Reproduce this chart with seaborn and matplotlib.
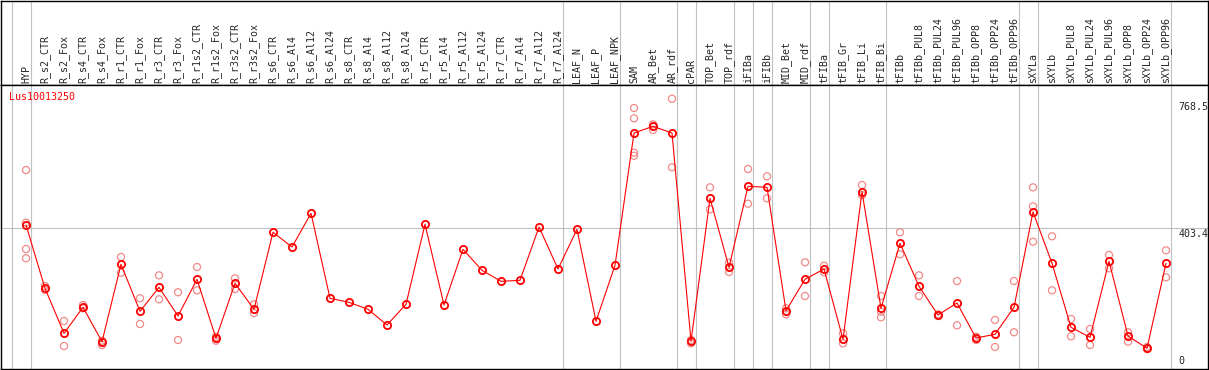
import numpy as np
import pandas as pd
import seaborn as sns
import matplotlib.pyplot as plt

# ====== Data ======
GENE = "Lus10013250"

SAMPLES = [
    "HYP", "R_s2_CTR", "R_s2_Fox", "R_s4_CTR", "R_s4_Fox", "R_r1_CTR", "R_r1_Fox",
    "R_r3_CTR", "R_r3_Fox", "R_r1s2_CTR", "R_r1s2_Fox", "R_r3s2_CTR", "R_r3s2_Fox",
    "R_s6_CTR", "R_s6_Al4", "R_s6_Al12", "R_s6_Al24", "R_s8_CTR", "R_s8_Al4",
    "R_s8_Al12", "R_s8_Al24", "R_r5_CTR", "R_r5_Al4", "R_r5_Al12", "R_r5_Al24",
    "R_r7_CTR", "R_r7_Al4", "R_r7_Al12", "R_r7_Al24", "LEAF_N", "LEAF_P", "LEAF_NPK",
    "SAM", "AR_Bet", "AR_rdf", "cPAR", "TOP_Bet", "TOP_rdf", "iFIBa", "iFIBb",
    "MID_Bet", "MID_rdf", "tFIBa", "tFIB_Gr", "tFIB_Li", "tFIB_Bi", "tFIBb",
    "tFIBb_PUL8", "tFIBb_PUL24", "tFIBb_PUL96", "tFIBb_OPP8", "tFIBb_OPP24",
    "tFIBb_OPP96", "sXYLa", "sXYLb", "sXYLb_PUL8", "sXYLb_PUL24", "sXYLb_PUL96",
    "sXYLb_OPP8", "sXYLb_OPP24", "sXYLb_OPP96",
]

MEANS = [
    413.0, 231.4, 102.4, 177.0, 78.3, 300.3, 165.5, 234.3, 152.0, 257.3, 88.0,
    245.8, 171.2, 392.1, 349.9, 446.5, 202.8, 191.3, 171.2, 126.2, 185.6, 415.0,
    183.6, 343.3, 283.1, 251.5, 254.4, 407.3, 286.8, 400.7, 136.8, 297.4, 676.8,
    696.1, 676.8, 79.4, 489.6, 291.7, 524.0, 521.1, 167.2, 257.3, 286.8, 85.2,
    508.5, 174.1, 360.5, 237.2, 154.9, 189.3, 88.9, 99.5, 177.0, 450.3, 303.1,
    119.6, 90.9, 308.9, 94.6, 59.4, 303.1,
]

REPLICATES = [
    [570.7, 419.6, 344.2, 317.5], [238.0, 226.6], [137.7, 66.0], [183.6, 174.1],
    [81.2, 68.8], [321.2, 276.2], [202.8, 129.1], [268.7, 199.9], [220.0, 83.2],
    [292.5, 225.7], [92.6, 81.2], [260.1, 229.4], [185.6, 160.6],
    [], [], [], [], [], [], [], [], [], [], [], [], [], [], [], [], [], [], [],
    [748.5, 719.0, 620.3, 611.7], [701.8, 694.9, 685.5], [775.2, 578.5],
    [83.2, 73.7], [521.1, 458.0], [304.9, 278.2], [573.6, 474.1], [552.7, 489.6],
    [174.1, 156.9], [306.0, 209.4], [296.3, 277.3], [102.4, 73.7], [527.7, 499.0],
    [209.4, 164.3, 148.3], [392.1, 329.0], [268.7, 209.4], [156.9, 152.0],
    [252.4, 125.3], [92.6, 83.2], [140.5, 63.1], [252.4, 105.3],
    [521.1, 466.6, 365.1], [380.6, 225.7], [143.4, 93.8], [114.7, 68.8],
    [327.0, 288.8], [105.3, 78.3], [63.0, 57.0], [340.4, 263.0],
]

Y_TICKS = [0, 403.4, 768.5]
Y_MAX = 814.6
# index of the last sample in each group (-1 = left edge)
GROUP_ENDS = [-1, 0, 28, 31, 34, 35, 37, 38, 39, 41, 42, 45, 52, 53, 60]

# ====== Style ======
W, H = 1209, 370
SEP_COLOR = "#c0c0c0"
REP_COLOR = "#f08a8a"
FONT_SIZE = 7.2
X_LIM = (-1.316, 62.21)

sns.set_style("white")
plt.rcParams["font.family"] = ["DejaVu Sans Mono", "DejaVu Sans"]

pos = np.arange(len(SAMPLES))
mean_df = pd.DataFrame({"pos": pos, "value": MEANS})
rep_df = pd.DataFrame(
    [(i, v) for i, reps in enumerate(REPLICATES) for v in reps],
    columns=["pos", "value"],
)

fig = plt.figure(figsize=(W / 100, H / 100), dpi=100)
ax_head = fig.add_axes([1 / W, 285 / H, 1207 / W, 84.5 / H])
ax = fig.add_axes([1 / W, 1 / H, 1207 / W, 284 / H])

for a in (ax_head, ax):
    a.set_xlim(*X_LIM)
    for s in a.spines.values():
        s.set_color("black")
        s.set_linewidth(1.0)
    for g in GROUP_ENDS:
        a.axvline(g + 0.24, color=SEP_COLOR, lw=0.8, zorder=0)

ax_head.set_ylim(0, 1)
ax_head.set_xticks([])
ax_head.set_yticks([])

ax.set_ylim(0, Y_MAX)
ax.axhline(403.4, color=SEP_COLOR, lw=0.8, zorder=0)

sns.scatterplot(data=rep_df, x="pos", y="value", ax=ax, marker="o", s=26,
                facecolors="none", edgecolor=REP_COLOR, linewidth=0.9,
                zorder=2, legend=False)
sns.lineplot(data=mean_df, x="pos", y="value", ax=ax, color="red", lw=0.8,
             marker="o", ms=5.2, mfc="none", mec="red", mew=1.3, zorder=3)

ax.xaxis.tick_top()
ax.set_xticks(pos)
ax.set_xticklabels(SAMPLES, rotation=90, fontsize=FONT_SIZE)
ax.tick_params(axis="x", length=0, pad=1.5)
ax.set_yticks([])
ax.set_xlabel("")
ax.set_ylabel("")

# value labels right of the last separator
lab_x = GROUP_ENDS[-1] + 0.64
for v in Y_TICKS:
    if v == 0:
        ax.annotate(f"{v:g}", xy=(lab_x, v), xytext=(0, 2.3),
                    textcoords="offset points", ha="left", va="bottom",
                    fontsize=FONT_SIZE)
    else:
        ax.annotate(f"{v:g}", xy=(lab_x, v), xytext=(0, -0.8),
                    textcoords="offset points", ha="left", va="top",
                    fontsize=FONT_SIZE)

ax.text(0.0066, 0.958, GENE, color="red", transform=ax.transAxes,
        ha="left", va="center", fontsize=FONT_SIZE)

fig.savefig("out.png", dpi=100)
plt.close(fig)
